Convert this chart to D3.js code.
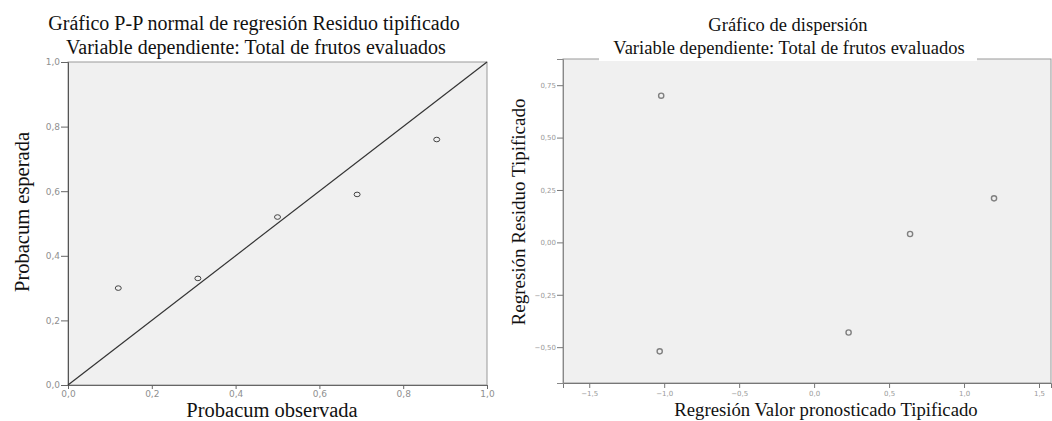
<!DOCTYPE html>
<html>
<head>
<meta charset="utf-8">
<script src="https://cdn.jsdelivr.net/npm/d3@7"></script>
<style>
  body { margin: 0; background: #fff; }
  svg { display: block; }
  .title { font-family: "Liberation Serif", "Times New Roman", serif; fill: #111; }
  .tick text { font-family: "DejaVu Sans", sans-serif; fill: #999; }
  .left-axis .tick text { font-size: 9px; fill: #8f8f8f; }
  .right-axis .tick text { font-size: 7px; }
</style>
</head>
<body>
<svg id="chart" width="1052" height="421"></svg>
<script>
// P-P plot data (observed vs expected cumulative probability)
var ppObserved = [0.12, 0.31, 0.50, 0.69, 0.88];
var ppExpected = [0.30, 0.33, 0.52, 0.59, 0.76];
var ppTicks = [0, 0.2, 0.4, 0.6, 0.8, 1.0];

// scatter data (standardized predicted vs standardized residual)
var predicted = [-1.02, -1.03, 0.23, 0.64, 1.20];
var residual = [0.70, -0.52, -0.43, 0.04, 0.21];
var xTicksR = [-1.5, -1.0, -0.5, 0.0, 0.5, 1.0, 1.5];
var yTicksR = [-0.50, -0.25, 0.00, 0.25, 0.50, 0.75];

var svg = d3.select('#chart');
var fmt1 = function (d) { return d3.format('.1f')(d).replace('.', ','); };
var fmt2 = function (d) { return d3.format('.2f')(d).replace('.', ','); };

// ---------- left chart ----------
var xL = d3.scaleLinear().domain([0, 1]).range([68, 487]);
var yL = d3.scaleLinear().domain([0, 1]).range([385, 62]);

svg.append('rect')
  .attr('x', xL(0)).attr('y', yL(1))
  .attr('width', xL(1) - xL(0)).attr('height', yL(0) - yL(1))
  .attr('fill', '#f0f0f0').attr('stroke', '#999');

svg.append('g').attr('class', 'left-axis').attr('transform', 'translate(0,' + yL(0) + ')')
  .call(d3.axisBottom(xL).tickValues(ppTicks).tickFormat(fmt1).tickSize(4).tickPadding(2))
  .call(function (g) { g.select('.domain').attr('stroke', '#666'); g.selectAll('.tick line').attr('stroke', '#666'); });

svg.append('g').attr('class', 'left-axis').attr('transform', 'translate(' + xL(0) + ',0)')
  .call(d3.axisLeft(yL).tickValues(ppTicks).tickFormat(fmt1).tickSize(7).tickPadding(1))
  .call(function (g) { g.select('.domain').attr('stroke', '#555'); g.selectAll('.tick line').attr('stroke', '#666'); });

svg.append('line')
  .attr('x1', xL(0)).attr('y1', yL(0))
  .attr('x2', xL(1)).attr('y2', yL(1))
  .attr('stroke', '#333').attr('stroke-width', 1.2);

svg.append('g').selectAll('ellipse')
  .data(ppObserved)
  .enter()
  .append('ellipse')
  .attr('cx', function (d) { return xL(d); })
  .attr('cy', function (d, i) { return yL(ppExpected[i]); })
  .attr('rx', 3).attr('ry', 2.3)
  .attr('fill', 'none').attr('stroke', '#444').attr('stroke-width', 1);

svg.append('text').attr('class', 'title')
  .attr('x', 254).attr('y', 30).attr('text-anchor', 'middle')
  .style('font-size', '20px')
  .text('Gráfico P-P normal de regresión Residuo tipificado');
svg.append('text').attr('class', 'title')
  .attr('x', 256).attr('y', 54).attr('text-anchor', 'middle')
  .style('font-size', '20px')
  .text('Variable dependiente: Total de frutos evaluados');

svg.append('text').attr('class', 'title')
  .attr('transform', 'translate(29,212) rotate(-90)')
  .attr('text-anchor', 'middle').style('font-size', '20.5px')
  .text('Probacum esperada');
svg.append('text').attr('class', 'title')
  .attr('x', 272).attr('y', 417).attr('text-anchor', 'middle')
  .style('font-size', '20.5px')
  .text('Probacum observada');

// ---------- right chart ----------
var xR = d3.scaleLinear().domain([-1.675, 1.58]).range([563, 1051]);
var yR = d3.scaleLinear().domain([-0.671, 0.875]).range([383, 59]);

svg.append('rect')
  .attr('x', xR(-1.675)).attr('y', yR(0.875))
  .attr('width', xR(1.58) - xR(-1.675)).attr('height', yR(-0.671) - yR(0.875))
  .attr('fill', '#f0f0f0').attr('stroke', '#999');

svg.append('g').attr('class', 'right-axis').attr('transform', 'translate(0,' + yR(-0.671) + ')')
  .call(d3.axisBottom(xR).tickValues(xTicksR).tickFormat(fmt1).tickSize(5).tickPadding(3))
  .call(function (g) { g.select('.domain').attr('stroke', '#777'); g.selectAll('.tick line').attr('stroke', '#777'); });

svg.append('g').attr('class', 'right-axis').attr('transform', 'translate(' + xR(-1.675) + ',0)')
  .call(d3.axisLeft(yR).tickValues(yTicksR).tickFormat(fmt2).tickSize(6).tickPadding(1))
  .call(function (g) { g.select('.domain').attr('stroke', '#888'); g.selectAll('.tick line').attr('stroke', '#777'); });

svg.append('g').selectAll('circle')
  .data(predicted)
  .enter()
  .append('circle')
  .attr('cx', function (d) { return xR(d); })
  .attr('cy', function (d, i) { return yR(residual[i]); })
  .attr('r', 2.6)
  .attr('fill', 'none').attr('stroke', '#808080').attr('stroke-width', 1.4);

// white box behind the subtitle covers the frame top
svg.append('rect').attr('x', 599).attr('y', 40).attr('width', 378).attr('height', 21).attr('fill', '#fff');

svg.append('text').attr('class', 'title')
  .attr('x', 788).attr('y', 31).attr('text-anchor', 'middle')
  .style('font-size', '18.5px')
  .text('Gráfico de dispersión');
svg.append('text').attr('class', 'title')
  .attr('x', 789).attr('y', 54).attr('text-anchor', 'middle')
  .style('font-size', '18.5px')
  .text('Variable dependiente: Total de frutos evaluados');

svg.append('text').attr('class', 'title')
  .attr('transform', 'translate(525,212) rotate(-90)')
  .attr('text-anchor', 'middle').style('font-size', '19px')
  .text('Regresión Residuo Tipificado');
svg.append('text').attr('class', 'title')
  .attr('x', 826).attr('y', 416).attr('text-anchor', 'middle')
  .style('font-size', '18.7px')
  .text('Regresión Valor pronosticado Tipificado');
</script>
</body>
</html>
